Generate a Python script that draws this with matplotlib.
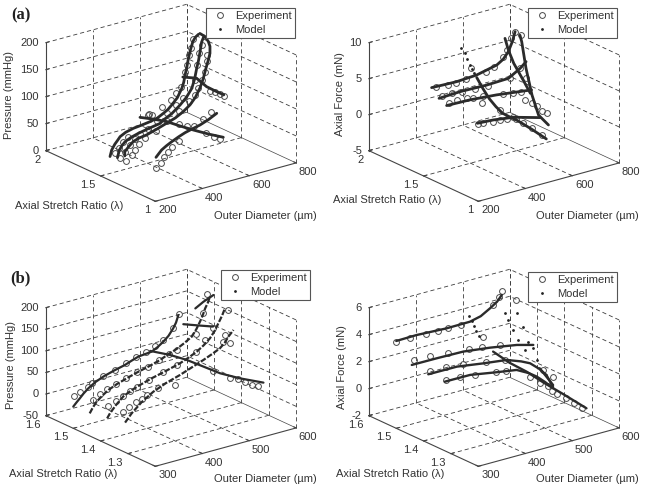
from __future__ import annotations

import matplotlib

matplotlib.use("Agg")
import matplotlib.pyplot as plt
import numpy as np
from matplotlib.lines import Line2D
from mpl_toolkits.mplot3d import proj3d

plt.rcParams["font.family"] = ["Liberation Sans", "DejaVu Sans"]

# panel (a), pressure
a_press_model_d = [
    [338, 345, 352, 359, 370, 381, 405, 437, 470, 509, 540, 565, 585, 601, 625, 644, 652, 658, 666, 672, 681, 691, 702, 715],
    [351, 359, 370, 383, 410, 440, 485, 533, 547, 582, 618, 645, 668, 680, 689, 697, 703, 710, 720],
    [359, 359, 375, 395, 420, 452, 495, 537, 575, 608, 637, 660, 679, 693, 705, 714, 722, 722, 715, 700, 679],
    [394, 405, 418, 438, 461, 490, 518, 550, 582, 618, 653],
    [489, 515, 536, 546, 559, 576, 597],
    [681, 711, 689, 687, 688],
]
a_press_model_l = [1.71, 1.67, 1.62, 1.41, [1.76, 1.69, 1.62, 1.52, 1.42, 1.32, 1.23], [1.78, 1.72, 1.58, 1.48, 1.42]]
a_press_model_v = [
    [0, 11, 16, 20.7, 26, 31.7, 37, 40.4, 42, 44.4, 47.5, 53, 58, 64.3, 75, 90, 100, 113, 128, 142, 157, 171, 178, 181.7],
    [0, 13, 20, 25.6, 31, 34.6, 38.5, 42, 46.6, 54, 66, 77, 91, 107, 126, 140, 154.6, 172, 181.7],
    [7, 15, 22, 29.4, 33, 35, 40.5, 46.5, 52, 59.6, 68.7, 80, 94.6, 110, 128.6, 141, 154, 167, 176.8, 188, 196],
    [20, 25, 30.8, 36, 41, 46.5, 51, 54.5, 57.7, 63.5, 70.9],
    [50, 50, 50, 50, 50, 50, 50],
    [100, 100, 100, 100, 100],
]
a_press_exp_d = [
    [359, 376, 395, 416, 501, 561, 598, 619, 641, 658, 668, 676, 682, 691],
    [362, 383, 405, 426, 447, 480, 520, 564, 601, 632, 682, 692, 700, 710],
    [366, 388, 402, 420, 445, 490, 540, 590, 634, 658, 669, 686, 700, 708, 710],
    [393, 414, 430, 447, 464, 491, 596, 629],
    [531, 536, 558, 564, 585, 576, 573, 577],
    [673, 683, 685, 684],
]
a_press_exp_l = [1.71, 1.67, 1.62, 1.41, [1.77, 1.75, 1.55, 1.49, 1.47, 1.34, 1.26, 1.22], [1.515, 1.49, 1.45, 1.41]]
a_press_exp_v = [
    [3.4, 10.6, 20.8, 27.5, 57.5, 64.7, 73.9, 83.7, 93.5, 119, 130, 148, 160, 175],
    [-2.5, 7.3, 17, 25, 32, 37, 48, 58, 68, 78, 105, 131, 152, 166],
    [-2.4, 5.6, 13, 21.5, 29.7, 38, 50, 62, 76.5, 84.8, 95.7, 109, 123, 140.6, 152.6],
    [0, 6.6, 15.9, 24.3, 31.6, 39.5, 67, 75.6],
    [50, 50, 50, 50, 50, 50, 50, 50],
    [100, 100, 100, 100],
]

# panel (a), axial force
a_force_model_d = [
    [332, 381, 439, 524, 610, 637, 659, 676, 688],
    [345, 435, 548, 641, 691, 716],
    [354, 453, 567, 666, 716],
    [387, 455, 541, 654],
    [515, 526, 536, 541, 546, 552, 559, 576, 597],
    [690, 690, 690, 690, 690, 690],
    [690, 690, 690, 690, 690],
]
a_force_model_l = [1.71, 1.67, 1.62, 1.41, [1.69, 1.655, 1.62, 1.57, 1.52, 1.47, 1.42, 1.32, 1.23],
                   [1.67, 1.654, 1.615, 1.56, 1.50, 1.41], [1.807, 1.776, 1.727, 1.642, 1.575]]
a_force_model_v = [
    [4.62, 4.56, 4.5, 4.67, 5.3, 5.85, 6.71, 7.95, 9.24],
    [3.3, 3.43, 3.34, 3.45, 4.4, 5.1],
    [2.57, 2.48, 2.16, 1.74, 1.53],
    [1.29, 1.15, 0.76, -0.29],
    [4.54, 3.1, 1.9, 1.1, 0.5, 0.3, 0.14, -0.56, -1.48],
    [9, 8.2, 4.8, 1.46, -0.9, -1.63],
    [7.6, 6.2, 4.7, 3, 1.6],
]
a_force_dots_d = [[482, 496, 506, 517, 526, 534]]
a_force_dots_l = [1.76]
a_force_dots_v = [[8.4, 7.58, 6.66, 5.77, 5.1, 4.47]]
a_force_exp_d = [
    [352, 402, 437, 480, 565, 597, 637, 654, 672, 686],
    [356, 399, 442, 499, 555, 646, 689],
    [364, 400, 439, 467, 510, 595, 638, 673],
    [388, 413, 455, 484, 515, 553],
    [503, 525, 543, 556, 566, 576, 590],
    [690, 690, 690, 690, 690, 690, 690],
]
a_force_exp_l = [1.71, 1.67, 1.62, 1.41, [1.72, 1.665, 1.54, 1.45, 1.38, 1.32, 1.25],
                 [1.663, 1.615, 1.624, 1.563, 1.517, 1.471, 1.426]]
a_force_exp_v = [
    [4.48, 4.37, 4.38, 4.46, 4.77, 5.2, 6.2, 7, 8.45, 9.25],
    [3.56, 3.51, 3.37, 3.23, 3.19, 3.4, 4.41],
    [2.81, 2.94, 2.93, 2.68, 2.57, 2, 1.76, 1.68],
    [1.19, 1.16, 0.92, 0.89, 0.71, 0.37],
    [5.8, 1.06, 0.79, 0.42, -0.1, -0.46, -1.06],
    [9.07, 3.4, 0.33, 0.3, 0.25, -0.12, -0.12],
]

# panel (b), pressure
b_press_model_d = [
    [300, 307, 314, 322, 332, 347, 364, 387, 410, 425, 439, 453, 467, 480, 492, 503, 513, 519, 524],
    [303, 310, 318, 330, 343, 361, 382, 405, 428, 453, 470, 488, 505, 520, 530, 538, 544, 549, 555, 559],
    [311, 317, 330, 345, 362, 381, 405, 431, 466, 485, 502, 517, 530, 540, 548, 556, 562],
    [323, 337, 358, 383, 410, 440, 465, 490, 508, 525, 535, 543, 554],
    [471, 486, 494, 497, 500, 512, 531],
    [499, 517, 532],
    [517, 547, 580],
]
b_press_model_l = [1.50, 1.445, 1.395, 1.35, [1.512, 1.465, 1.418, 1.362, 1.306, 1.254, 1.201],
                   [1.439, 1.41, 1.387], [1.426, 1.448, 1.468]]
b_press_model_v = [
    [0.2, 8, 15.2, 24, 33, 43, 50.7, 58, 64, 70, 75, 76.5, 78, 85, 93.8, 104, 118.4, 130, 146],
    [-0.2, 12, 22.6, 33, 42.2, 50.5, 57.7, 65, 71, 79, 87, 94, 103, 113, 127, 142.6, 156, 170, 182, 194],
    [0.5, 10.5, 26, 40.7, 50, 57, 65, 71.8, 82, 90, 98.5, 109, 121, 135, 150.5, 166, 181],
    [0.4, 17.7, 37, 54, 66, 76, 86, 96, 104, 112.5, 122, 134, 146.5],
    [75, 75, 75, 75, 75, 75, 75],
    [150, 150, 150],
    [185, 185, 185],
]
b_press_exp_d = [
    [301, 314, 332, 340, 364, 388, 412, 433, 455, 475, 492, 513, 526],
    [309, 325, 340, 358, 380, 403, 428, 450, 471, 488, 530, 545, 554],
    [312, 330, 345, 360, 374, 400, 431, 459, 500, 520, 537, 569],
    [319, 332, 346, 358, 370, 394, 429, 532, 547, 536],
    [498, 501, 507, 507, 509, 514],
]
b_press_exp_l = [1.50, 1.445, 1.395, 1.35, [1.327, 1.271, 1.252, 1.228, 1.205, 1.19]]
b_press_exp_v = [
    [25.2, 29, 37, 43, 53, 60, 67.4, 75, 81.6, 88, 97.7, 118.4, 147],
    [29, 37, 45, 52, 59.6, 65, 71, 79, 87, 91.7, 117, 160, 201],
    [29.7, 35, 43, 49, 55.4, 63, 71.8, 80, 98, 120, 142, 175],
    [26.9, 33, 40.5, 45, 50, 58.8, 56, 126, 117.7, 140],
    [75, 75, 75, 75, 75, 75],
]

# panel (b), axial force
b_force_model_d = [
    [300, 343, 407, 457, 480, 500, 515, 525],
    [301, 354, 411, 468, 525, 560],
    [307, 368, 424, 474, 505, 524, 543, 559],
    [316, 370, 427, 469, 495, 512, 530, 547],
    [486, 494, 497, 500, 512, 531],
    [520, 520],
    [560, 560],
]
b_force_model_l = [1.50, 1.445, 1.395, 1.35, [1.465, 1.418, 1.362, 1.306, 1.254, 1.201], [1.353, 1.304], [1.397, 1.373]]
b_force_model_v = [
    [4.47, 4.5, 4.39, 4.41, 4.6, 5, 5.35, 5.75],
    [3.2, 3.19, 3.15, 2.9, 2.56, 2.23],
    [2.92, 2.91, 2.62, 2.4, 2, 1.68, 1.1, 0.48],
    [2.71, 2.7, 2.36, 2.13, 1.65, 1.23, 0.65, 0.03],
    [2.25, 1.78, 1.63, 1.33, 0.84, 0.1],
    [1.74, 0.96],
    [0.45, -0.18],
]
b_force_dots_d = [
    [472, 478, 483, 488, 494],
    [520, 520, 520, 520, 520],
    [560, 560, 560, 560, 560],
]
b_force_dots_l = [1.53, [1.48, 1.468, 1.449, 1.431, 1.407], [1.506, 1.481, 1.463, 1.445, 1.433]]
b_force_dots_v = [
    [4.43, 3.98, 3.57, 3.17, 2.75],
    [4.62, 4.25, 3.68, 3.11, 2.6],
    [4, 3.25, 2.3, 1.98, 1.23],
]
b_force_exp_d = [
    [300, 330, 364, 389, 410, 439, 506, 520, 525],
    [305, 339, 378, 424, 451, 488],
    [310, 344, 381, 431, 470],
    [319, 348, 381, 426, 447],
    [478, 498, 499, 503, 507, 509, 515, 521, 527],
    [560, 520, 520],
]
b_force_exp_l = [1.50, 1.445, 1.395, 1.35, [1.49, 1.35, 1.317, 1.295, 1.285, 1.27, 1.247, 1.23, 1.212],
                 [1.507, 1.341, 1.304]]
b_force_exp_v = [
    [4.4, 4.39, 4.38, 4.37, 4.37, 4.34, 5.19, 5.67, 6.04],
    [3.53, 3.5, 3.38, 3.21, 3.09, 2.9],
    [3.14, 3.09, 2.96, 2.69, 2.44],
    [2.8, 2.73, 2.59, 2.36, 2.26],
    [3.19, 1.36, 1.16, 1.11, 0.83, 0.74, 0.57, 0.32, 0.07],
    [4.98, 1.73, 1.58],
]

# ticks
d_ticks_a = [200, 400, 600, 800]
l_ticks_a = [1, 1.5, 2]
p_ticks_a = [0, 50, 100, 150, 200]
f_ticks_a = [-5, 0, 5, 10]
d_ticks_b = [300, 400, 500, 600]
l_ticks_b = [1.2, 1.3, 1.4, 1.5, 1.6]
p_ticks_b = [-50, 0, 50, 100, 150, 200]
f_ticks_b = [-2, 0, 2, 4, 6]

W, H = 646, 491
INK = "#333333"
GRID = "#3c3c3c"
SIDE = 280
BOX = (177.4, 179.7, 115.5)
FONT = 8


def add_axes_at(fig, cx, cy):
    """Put a square 3D axes so that the box centre lands on pixel (cx, cy)."""
    left = cx - 0.5135 * SIDE
    bottom = H - cy - 0.5135 * SIDE
    ax = fig.add_axes([left / W, bottom / H, SIDE / W, SIDE / H], projection="3d", computed_zorder=False)
    ax.set_proj_type("ortho")
    ax.view_init(elev=20.8, azim=-127.5)
    ax.set_box_aspect(BOX, zoom=0.963)
    ax.set_axis_off()
    ax.patch.set_alpha(0)
    return ax


def draw_box(ax, d_ticks, l_ticks, v_ticks, l_labels):
    d0, d1 = d_ticks[0], d_ticks[-1]
    l0, l1 = l_ticks[0], l_ticks[-1]
    v0, v1 = v_ticks[0], v_ticks[-1]
    ax.set_xlim(d0, d1)
    ax.set_ylim(l0, l1)
    ax.set_zlim(v0, v1)
    dash = dict(color=GRID, lw=0.6, ls=(0, (5, 3.5)), zorder=1)
    solid = dict(color="#444444", lw=0.8, zorder=1.5)

    # floor and the two back walls
    for lam in l_ticks[1:]:
        ax.plot([d0, d1], [lam, lam], [v0, v0], **dash)
        ax.plot([d1, d1], [lam, lam], [v0, v1], **dash)
    for d in d_ticks[1:-1]:
        ax.plot([d, d], [l0, l1], [v0, v0], **dash)
    for d in d_ticks[1:]:
        ax.plot([d, d], [l1, l1], [v0, v1], **dash)
    for v in v_ticks[1:]:
        ax.plot([d0, d1], [l1, l1], [v, v], **dash)
        ax.plot([d1, d1], [l0, l1], [v, v], **dash)
    ax.plot([d1, d1], [l0, l1], [v0, v0], color="#444444", lw=0.5, zorder=1.5)
    ax.plot([d1, d1], [l0, l0], [v0, v1], **dash)

    # solid axes
    ax.plot([d0, d0], [l1, l1], [v0, v1], **solid)
    ax.plot([d0, d0], [l0, l1], [v0, v0], **solid)
    ax.plot([d0, d1], [l0, l0], [v0, v0], **solid)

    # short ticks
    dd = (d1 - d0) * 0.02
    dl = (l1 - l0) * 0.02
    for v in v_ticks:
        ax.plot([d0, d0 + dd], [l1, l1], [v, v], **solid)
        label_at(ax, d0, l1, v, str(v), (-7, 0), "right")
    for d in d_ticks:
        ax.plot([d, d], [l0, l0 + dl], [v0, v0], **solid)
        label_at(ax, d, l0, v0, str(d), (12, -9), "center")
    for lam, text in zip(l_ticks, l_labels):
        ax.plot([d0, d0 + dd], [lam, lam], [v0, v0], **solid)
        label_at(ax, d0, lam, v0, text, (-5, -9), "right")


def label_at(ax, x, y, z, text, offset, ha):
    x2, y2, _ = proj3d.proj_transform(x, y, z, ax.get_proj())
    ax.annotate(text, (x2, y2), xytext=offset, textcoords="offset pixels", ha=ha, va="center",
                fontsize=FONT, color=INK, annotation_clip=False)


def draw_curves(ax, exp, model, dots=None, line_w=2.0, dashed=()):
    for d, lam, val in zip(*exp):
        ax.plot(d, np.broadcast_to(lam, np.shape(d)), val, ls="none", marker="o", ms=4.2,
                mfc="none", mec="#4a4a4a", mew=0.7, zorder=3)
    for i, (d, lam, val) in enumerate(zip(*model)):
        style = (0, (2.6, 0.8)) if i in dashed else "-"
        ax.plot(d, np.broadcast_to(lam, np.shape(d)), val, color="#2b2b2b", lw=line_w, ls=style, zorder=4,
                solid_capstyle="round", solid_joinstyle="round")
    if dots is not None:
        for d, lam, val in zip(*dots):
            ax.plot(d, np.broadcast_to(lam, np.shape(d)), val, ls="none", marker="o", ms=2.0,
                    color="#222222", mew=0, zorder=4)


def add_legend(ax, cx, cy):
    handles = [
        Line2D([], [], ls="none", marker="o", ms=4.2, mfc="none", mec="#4a4a4a", mew=0.7, label="Experiment"),
        Line2D([], [], ls="none", marker="o", ms=2.0, color="#222222", mew=0, label="Model"),
    ]
    leg = ax.legend(handles=handles, loc="center", bbox_to_anchor=(cx / W, 1 - cy / H),
                    bbox_transform=ax.figure.transFigure, fontsize=FONT, fancybox=False, framealpha=1,
                    edgecolor="#555555", numpoints=1, labelspacing=0.32, borderpad=0.3,
                    handlelength=2.0, handletextpad=0.35, borderaxespad=0)
    leg.get_frame().set_linewidth(0.8)
    leg.set_zorder(10)
    for text in leg.get_texts():
        text.set_color(INK)


def axis_text(fig, px, py, text, rotation=0):
    fig.text(px / W, 1 - py / H, text, ha="center", va="center", rotation=rotation, fontsize=FONT, color=INK)


fig = plt.figure(figsize=(W / 100, H / 100), dpi=100)

# (a) pressure
ax = add_axes_at(fig, 171, 102.8)
draw_box(ax, d_ticks_a, l_ticks_a, p_ticks_a, ["1", "1.5", "2"])
draw_curves(ax, (a_press_exp_d, a_press_exp_l, a_press_exp_v), (a_press_model_d, a_press_model_l, a_press_model_v))
add_legend(ax, 250.5, 23)
axis_text(fig, 9.5, 95, "Pressure (mmHg)", 90)
axis_text(fig, 69.5, 206, "Axial Stretch Ratio (λ)")
axis_text(fig, 265, 216, "Outer Diameter (µm)")

# (a) force
ax = add_axes_at(fig, 494, 102.8)
draw_box(ax, d_ticks_a, l_ticks_a, f_ticks_a, ["1", "1.5", "2"])
draw_curves(ax, (a_force_exp_d, a_force_exp_l, a_force_exp_v), (a_force_model_d, a_force_model_l, a_force_model_v),
            (a_force_dots_d, a_force_dots_l, a_force_dots_v))
add_legend(ax, 572.5, 23)
axis_text(fig, 339.7, 94, "Axial Force (mN)", 90)
axis_text(fig, 387, 200, "Axial Stretch Ratio (λ)")
axis_text(fig, 587, 216, "Outer Diameter (µm)")

# (b) pressure
ax = add_axes_at(fig, 171, 367.8)
draw_box(ax, d_ticks_b, l_ticks_b, p_ticks_b, ["", "1.3", "1.4", "1.5", "1.6"])
draw_curves(ax, (b_press_exp_d, b_press_exp_l, b_press_exp_v), (b_press_model_d, b_press_model_l, b_press_model_v),
            line_w=1.6, dashed=(1, 2, 3))
add_legend(ax, 265.5, 285)
axis_text(fig, 11, 365, "Pressure (mmHg)", 90)
axis_text(fig, 63, 474, "Axial Stretch Ratio (λ)")
axis_text(fig, 265, 479, "Outer Diameter (µm)")

# (b) force
ax = add_axes_at(fig, 494, 367.8)
draw_box(ax, d_ticks_b, l_ticks_b, f_ticks_b, ["", "1.3", "1.4", "1.5", "1.6"])
draw_curves(ax, (b_force_exp_d, b_force_exp_l, b_force_exp_v), (b_force_model_d, b_force_model_l, b_force_model_v),
            (b_force_dots_d, b_force_dots_l, b_force_dots_v), line_w=1.7)
add_legend(ax, 572.5, 287)
axis_text(fig, 342, 367, "Axial Force (mN)", 90)
axis_text(fig, 390, 474, "Axial Stretch Ratio (λ)")
axis_text(fig, 587, 479, "Outer Diameter (µm)")

for px, py, letter in [(11, 15, "(a)"), (10, 278, "(b)")]:
    fig.text(px / W, 1 - py / H, letter, ha="left", va="center", fontsize=12, fontweight="bold",
             family="Liberation Serif", color="#222222")

fig.savefig("out.png", dpi=100)
plt.close(fig)
